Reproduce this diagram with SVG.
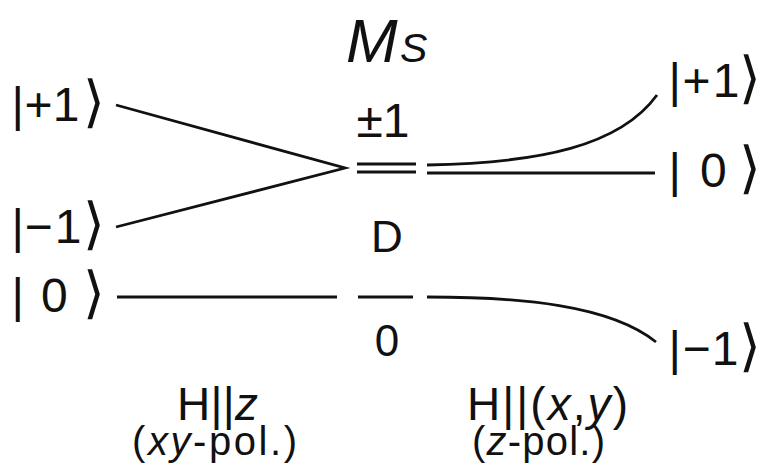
<svg xmlns="http://www.w3.org/2000/svg" width="761" height="466" viewBox="0 0 761 466">
  <style>
    .t { font-family: "Liberation Sans", "DejaVu Sans", Arial, sans-serif; fill: #111; }
    .k { font-size: 48px; }
    .br { font-family: "DejaVu Sans", sans-serif; font-size: 56px; }
    .c { text-anchor: middle; }
    .b { font-size: 46px; }
    .p { font-size: 40px; }
    .i { font-style: italic; }
    .lv { fill: none; stroke: #111; stroke-width: 2.8; stroke-linecap: butt; }
  </style>
  <rect width="761" height="466" fill="#ffffff"/>

  <!-- title -->
  <g id="title">
    <text class="t i" x="346" y="62" font-size="62">M</text>
    <text class="t i" x="400" y="62" font-size="41">S</text>
  </g>

  <!-- zero-field levels and their labels -->
  <g id="zero-field">
    <line class="lv" x1="357" y1="164" x2="416" y2="164"/>
    <line class="lv" x1="357" y1="172" x2="416" y2="172"/>
    <line class="lv" x1="358" y1="297" x2="413" y2="297"/>
    <text class="t c" x="383" y="137" font-size="48">±1</text>
    <text class="t c" x="387" y="252" font-size="44">D</text>
    <text class="t c" x="387" y="356" font-size="44">0</text>
  </g>

  <!-- left-hand kets (H || z) -->
  <g id="ket-left-plus1">
    <text class="t k" x="11.5 24.6 52.8" y="121">|+1<tspan class="br" x="83">⟩</tspan></text>
  </g>
  <g id="ket-left-minus1">
    <text class="t k" x="11.5 24.6 54.8" y="243">|−1<tspan class="br" x="83">⟩</tspan></text>
  </g>
  <g id="ket-left-0">
    <text class="t k" x="11.5 41" y="312">|0<tspan class="br" x="83">⟩</tspan></text>
  </g>

  <!-- right-hand kets (H || (x,y)) -->
  <g id="ket-right-plus1">
    <text class="t k" x="668.5 682.6 712.8" y="97">|+1<tspan class="br" x="739">⟩</tspan></text>
  </g>
  <g id="ket-right-0">
    <text class="t k" x="668.5 700" y="187">|0<tspan class="br" x="739">⟩</tspan></text>
  </g>
  <g id="ket-right-minus1">
    <text class="t k" x="668.5 682.6 711.8" y="365">|−1<tspan class="br" x="739">⟩</tspan></text>
  </g>

  <!-- field-direction captions -->
  <g id="caption-left">
    <text class="t b" x="177" y="420" textLength="81" lengthAdjust="spacing">H||<tspan class="i">z</tspan></text>
    <text class="t p" x="132" y="455" textLength="165" lengthAdjust="spacing">(<tspan class="i">xy</tspan>-pol.)</text>
  </g>
  <g id="caption-right">
    <text class="t b" x="467" y="420" textLength="161" lengthAdjust="spacing">H||(<tspan class="i">x</tspan>,<tspan class="i">y</tspan>)</text>
    <text class="t p" x="472" y="455" textLength="133" lengthAdjust="spacing">(<tspan class="i">z</tspan>-pol.)</text>
  </g>

  <!-- level connectors -->
  <g id="connectors">
    <path class="lv" d="M116,105 L345,168 L116,227"/>
    <line class="lv" x1="117" y1="297" x2="337" y2="297"/>
    <path class="lv" d="M427,165 C540,163 620,146 657,95"/>
    <line class="lv" x1="427" y1="173" x2="655" y2="173"/>
    <path class="lv" d="M427,297 C520,297 610,305 656,342"/>
  </g>
</svg>
